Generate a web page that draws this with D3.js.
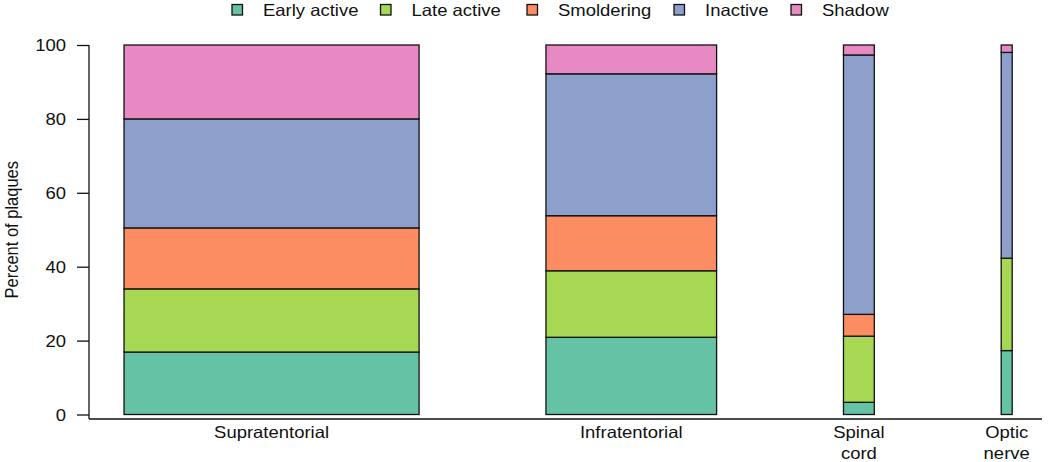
<!DOCTYPE html>
<html>
<head>
<meta charset="utf-8">
<script src="https://cdn.jsdelivr.net/npm/d3@7"></script>
<style>
  html, body { margin: 0; padding: 0; background: #fff; }
  svg { display: block; font-family: "Liberation Sans", Arial, sans-serif; }
</style>
</head>
<body>
<svg id="chart" width="1050" height="462"></svg>
<script>
// ---- data ----
const categories = ["Supratentorial", "Infratentorial", "Spinal\ncord", "Optic\nnerve"];
const plaqueWeights = [268, 155, 28, 10];   // relative bar widths
const seriesNames = ["Early active", "Late active", "Smoldering", "Inactive", "Shadow"];
const earlyActive = [16.9, 20.9, 3.3, 17.3];
const lateActive  = [17.1, 18.0, 17.9, 25.0];
const smoldering  = [16.5, 14.9, 5.9, 0.0];
const inactive    = [29.5, 38.4, 70.2, 55.7];
const shadow      = [20.0, 7.8, 2.7, 2.0];
const yTicks = [0, 20, 40, 60, 80, 100];
const yTitle = "Percent of plaques";

// ---- styles/layout ----
const colors = ["#66c2a5", "#a6d854", "#fc8d62", "#8da0cb", "#e78ac3"];
const FS = 16.5, SX = 1.12;
const svg = d3.select("#chart");

const seriesValues = [earlyActive, lateActive, smoldering, inactive, shadow];
const rows = categories.map((c, i) => {
  const r = { cat: c };
  seriesNames.forEach((s, j) => r[s] = seriesValues[j][i]);
  return r;
});
const stacked = d3.stack().keys(seriesNames)(rows);

// x: bar widths proportional to weights, gap = mean weight (R barplot space=1)
const gap = d3.mean(plaqueWeights);
const starts = [];
let acc = gap;
plaqueWeights.forEach(w => { starts.push(acc); acc += w + gap; });
const totalUnits = acc - gap;
const x = d3.scaleLinear().domain([0, totalUnits]).range([-2.85, 1012.2]);
const y = d3.scaleLinear().domain([0, 100]).range([414.5, 45]);

// bars
const g = svg.append("g");
stacked.forEach((layer, j) => {
  g.selectAll(null).data(layer).enter().append("rect")
    .attr("x", (d, i) => x(starts[i]))
    .attr("width", (d, i) => x(starts[i] + plaqueWeights[i]) - x(starts[i]))
    .attr("y", d => y(d[1]))
    .attr("height", d => y(d[0]) - y(d[1]))
    .attr("fill", colors[j])
    .attr("stroke", "#111")
    .attr("stroke-width", 1.3);
});

// y axis
const yAxis = svg.append("g").attr("transform", "translate(89,0)")
  .call(d3.axisLeft(y).tickValues(yTicks).tickSize(12).tickSizeOuter(0));
yAxis.select(".domain").remove();
yAxis.selectAll(".tick line").attr("stroke", "#111").attr("stroke-width", 1.3);
yAxis.selectAll(".tick text")
  .attr("x", null).attr("dy", "0.36em")
  .attr("transform", `translate(-23,0) scale(${SX},1)`)
  .attr("font-size", FS).attr("fill", "#111")
  .attr("font-family", "Liberation Sans, Arial, sans-serif");
svg.append("line").attr("x1", 89).attr("x2", 89).attr("y1", y(100)).attr("y2", 419)
  .attr("stroke", "#111").attr("stroke-width", 1.3);
svg.append("line").attr("x1", 89).attr("x2", 1042).attr("y1", 419).attr("y2", 419)
  .attr("stroke", "#111").attr("stroke-width", 1.3);

// y title
svg.append("text")
  .attr("transform", `translate(18,${(y(0) + y(100)) / 2}) scale(${SX},1) rotate(-90)`)
  .attr("text-anchor", "middle").attr("font-size", FS).attr("fill", "#111")
  .text(yTitle);

// x labels
categories.forEach((c, i) => {
  const cx = x(starts[i] + plaqueWeights[i] / 2);
  c.split("\n").forEach((line, k) => {
    svg.append("text")
      .attr("transform", `translate(${cx},${437.5 + k * 21}) scale(${SX},1)`)
      .attr("text-anchor", "middle").attr("font-size", FS).attr("fill", "#111")
      .text(line);
  });
});

// legend
const legX = [232, 380.5, 527, 674, 791];
seriesNames.forEach((s, j) => {
  svg.append("rect").attr("x", legX[j]).attr("y", 4.5).attr("width", 10.5).attr("height", 10.5)
    .attr("fill", colors[j]).attr("stroke", "#111").attr("stroke-width", 1.3);
  svg.append("text")
    .attr("transform", `translate(${legX[j] + 31},16) scale(${SX},1)`)
    .attr("font-size", FS).attr("fill", "#111")
    .text(s);
});
</script>
</body>
</html>
